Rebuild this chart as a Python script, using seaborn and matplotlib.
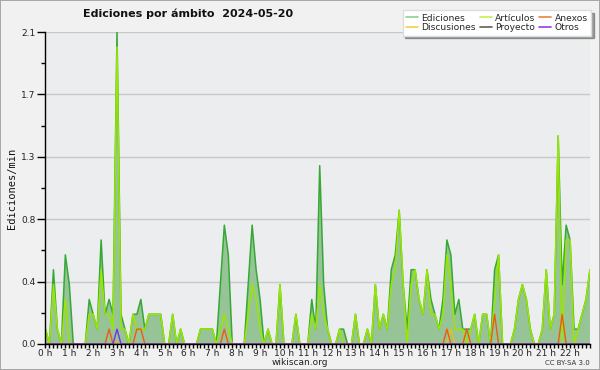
import numpy as np
import pandas as pd
import matplotlib
matplotlib.use("Agg")
import matplotlib.pyplot as plt
import seaborn as sns
import seaborn.objects as so
from matplotlib.lines import Line2D
from matplotlib.ticker import FixedLocator, MultipleLocator

# 10-minute samples, 00:00 .. 22:50 (one row per hour)
ediciones = [
    0.1, 0, 0.5, 0.1, 0, 0.6,
    0.4, 0, 0, 0, 0, 0.3,
    0.2, 0.1, 0.7, 0.2, 0.3, 0.2,
    2.1, 0.2, 0.1, 0, 0.2, 0.2,
    0.3, 0.1, 0.2, 0.2, 0.2, 0.2,
    0, 0, 0.2, 0, 0.1, 0,
    0, 0, 0, 0.1, 0.1, 0.1,
    0.1, 0, 0.4, 0.8, 0.6, 0,
    0, 0, 0, 0.4, 0.8, 0.5,
    0.3, 0, 0.1, 0, 0, 0.4,
    0, 0, 0, 0.2, 0, 0,
    0, 0.3, 0.1, 1.2, 0.4, 0.1,
    0, 0, 0.1, 0.1, 0, 0,
    0.2, 0, 0, 0.1, 0, 0.4,
    0.1, 0.2, 0.1, 0.5, 0.6, 0.9,
    0.4, 0.1, 0.5, 0.5, 0.3, 0.2,
    0.5, 0.3, 0.2, 0.1, 0.3, 0.7,
    0.6, 0.2, 0.3, 0.1, 0.1, 0.1,
    0.2, 0, 0.2, 0.2, 0, 0.5,
    0.6, 0, 0, 0, 0.1, 0.3,
    0.4, 0.3, 0.1, 0, 0, 0.1,
    0.5, 0.1, 0.2, 1.4, 0.4, 0.8,
    0.7, 0.1, 0.1, 0.2, 0.3, 0.5,
]
articulos = [
    0.1, 0, 0.4, 0.1, 0, 0.3,
    0, 0, 0, 0, 0, 0.2,
    0.2, 0.1, 0.5, 0.2, 0.2, 0.1,
    2.0, 0.1, 0.1, 0, 0.2, 0.1,
    0.1, 0.1, 0.2, 0.2, 0.2, 0.2,
    0, 0, 0.2, 0, 0.1, 0,
    0, 0, 0, 0.1, 0.1, 0.1,
    0.1, 0, 0.1, 0.2, 0.1, 0,
    0, 0, 0, 0.2, 0.4, 0.3,
    0.1, 0, 0.1, 0, 0, 0.4,
    0, 0, 0, 0.2, 0, 0,
    0, 0.2, 0.1, 0.4, 0.2, 0.1,
    0, 0, 0.1, 0, 0, 0,
    0.2, 0, 0, 0.1, 0, 0.4,
    0.1, 0.2, 0.1, 0.4, 0.5, 0.9,
    0.4, 0, 0.4, 0.5, 0.3, 0.2,
    0.5, 0.2, 0.2, 0.1, 0.2, 0.6,
    0.4, 0.1, 0.1, 0.1, 0, 0.1,
    0.2, 0, 0.2, 0.2, 0, 0.3,
    0.6, 0, 0, 0, 0.1, 0.3,
    0.4, 0.3, 0.1, 0, 0, 0.1,
    0.5, 0.1, 0.2, 1.4, 0, 0.7,
    0.7, 0, 0.1, 0.2, 0.3, 0.5,
]
anexos = [
    0, 0, 0, 0, 0, 0,
    0, 0, 0, 0, 0, 0,
    0, 0, 0, 0, 0.1, 0,
    0, 0, 0, 0, 0, 0.1,
    0.1, 0, 0, 0, 0, 0,
    0, 0, 0, 0, 0, 0,
    0, 0, 0, 0, 0, 0,
    0, 0, 0, 0.1, 0, 0,
    0, 0, 0, 0, 0, 0,
    0, 0, 0, 0, 0, 0,
    0, 0, 0, 0, 0, 0,
    0, 0, 0, 0, 0, 0,
    0, 0, 0, 0, 0, 0,
    0, 0, 0, 0, 0, 0,
    0, 0, 0, 0, 0, 0,
    0, 0, 0, 0, 0, 0,
    0, 0, 0, 0, 0, 0.1,
    0, 0, 0, 0, 0.1, 0,
    0, 0, 0, 0, 0, 0.2,
    0, 0, 0, 0, 0, 0,
    0, 0, 0, 0, 0, 0,
    0, 0, 0, 0, 0.2, 0,
    0, 0, 0, 0, 0, 0,
]
discusiones = [
    0, 0, 0, 0, 0, 0,
    0, 0, 0, 0, 0, 0,
    0, 0, 0, 0, 0, 0,
    0, 0, 0, 0, 0, 0,
    0, 0, 0, 0, 0, 0,
    0, 0, 0, 0, 0, 0,
    0, 0, 0, 0, 0, 0,
    0, 0, 0, 0, 0, 0,
    0, 0, 0, 0, 0, 0,
    0, 0, 0, 0, 0, 0,
    0, 0, 0, 0, 0, 0,
    0, 0, 0, 0, 0, 0,
    0, 0, 0, 0, 0, 0,
    0, 0, 0, 0, 0, 0,
    0, 0, 0, 0, 0, 0,
    0, 0, 0, 0, 0, 0,
    0, 0, 0, 0, 0, 0,
    0.1, 0, 0, 0, 0, 0,
    0, 0, 0, 0, 0, 0,
    0, 0, 0, 0, 0, 0,
    0, 0, 0, 0, 0, 0,
    0, 0, 0, 0, 0, 0,
    0, 0, 0, 0, 0, 0,
]
otros = [
    0, 0, 0, 0, 0, 0,
    0, 0, 0, 0, 0, 0,
    0, 0, 0, 0, 0, 0,
    0.1, 0, 0, 0, 0, 0,
    0, 0, 0, 0, 0, 0,
    0, 0, 0, 0, 0, 0,
    0, 0, 0, 0, 0, 0,
    0, 0, 0, 0, 0, 0,
    0, 0, 0, 0, 0, 0,
    0, 0, 0, 0, 0, 0,
    0, 0, 0, 0, 0, 0,
    0, 0, 0, 0, 0, 0,
    0, 0, 0, 0, 0, 0,
    0, 0, 0, 0, 0, 0,
    0, 0, 0, 0, 0, 0,
    0, 0, 0, 0, 0, 0,
    0, 0, 0, 0, 0, 0,
    0, 0, 0, 0, 0, 0,
    0, 0, 0, 0, 0, 0,
    0, 0, 0, 0, 0, 0,
    0, 0, 0, 0, 0, 0,
    0, 0, 0, 0, 0, 0,
    0, 0, 0, 0, 0, 0,
]
hour_labels = [f"{h} h" for h in range(23)]
y_ticks = [0.0, 0.42, 0.84, 1.26, 1.68, 2.1]
legend_labels = ["Ediciones", "Discusiones", "Artículos", "Proyecto", "Anexos", "Otros"]

n = len(ediciones)
hours = np.arange(n) / 6.0
df = pd.DataFrame({"t": hours, "ediciones": ediciones, "articulos": articulos,
                   "anexos": anexos, "discusiones": discusiones, "otros": otros})

sns.set_theme(style="white")
plt.rcParams["font.family"] = ["DejaVu Sans"]

fig = plt.figure(figsize=(6, 3.7), dpi=100, facecolor="#f1f1f1",
                 edgecolor="#a8a8a8", linewidth=1.2)
ax = fig.add_axes([0.0758, 0.0703, 0.9075, 0.8432])
ax.set_facecolor("#ecedef")

# filled area under total edits via seaborn.objects Area mark
(so.Plot(df, x="t", y="ediciones")
   .add(so.Area(color="#96c496", alpha=1, edgewidth=0))
   .on(ax)
   .plot())

sns.lineplot(data=df, x="t", y="ediciones", ax=ax, color="#35a835", lw=1.1, legend=False)
sns.lineplot(data=df, x="t", y="articulos", ax=ax, color="#99e600", lw=1.1, legend=False)
sns.lineplot(data=df, x="t", y="discusiones", ax=ax, color="#e8c020", lw=1.0, legend=False)
sns.lineplot(data=df, x="t", y="anexos", ax=ax, color="#ee5a10", lw=1.0, legend=False)
sns.lineplot(data=df, x="t", y="otros", ax=ax, color="#7a2ee8", lw=1.0, legend=False)
for i, ln in enumerate(ax.get_lines()):
    ln.set_zorder(3 + i)
for c in ax.collections:
    c.set_zorder(2)
    c.set_facecolor("#96c496")
    c.set_edgecolor("none")
    c.set_alpha(1)

ax.set_xlim(0, hours[-1])
ax.set_ylim(0, 2.1)
ax.set_xlabel("")
ax.set_ylabel("")

ax.xaxis.set_major_locator(FixedLocator(range(23)))
ax.set_xticklabels(hour_labels)
ax.xaxis.set_minor_locator(MultipleLocator(1 / 6))
ax.yaxis.set_major_locator(FixedLocator(y_ticks))
ax.set_yticklabels([f"{v:.1f}" for v in y_ticks])
ax.yaxis.set_minor_locator(FixedLocator([0.21, 0.63, 1.05, 1.47, 1.89]))

ax.tick_params(axis="x", which="both", direction="out", length=3, width=1,
               color="black", labelsize=6.5, pad=0.5, bottom=True)
ax.tick_params(axis="y", which="major", direction="out", length=6, width=1,
               color="black", labelsize=6.5, pad=1, left=True)
ax.tick_params(axis="y", which="minor", direction="out", length=3, width=1,
               color="black", left=True)
for lbl in ax.get_xticklabels() + ax.get_yticklabels():
    lbl.set_color("#222222")

ax.grid(axis="y", which="major", color="#c8c8c8", lw=1)
ax.grid(axis="x", visible=False)
for gl in ax.get_ygridlines():
    gl.set_zorder(1)
for s in ["top", "right"]:
    ax.spines[s].set_visible(False)
for s in ["left", "bottom"]:
    ax.spines[s].set_visible(True)
    ax.spines[s].set_color("black")
    ax.spines[s].set_linewidth(1)
    ax.spines[s].set_zorder(9)
ax.set_facecolor("#ecedef")

fig.text(0.314, 0.962, "Ediciones por ámbito  2024-05-20", ha="center", va="center",
         fontsize=8, fontweight="bold", color="#111111")
fig.text(0.02, 0.49, "Ediciones/min", rotation=90, ha="center", va="center",
         fontsize=7.5, family=["DejaVu Sans Mono"], color="#111111")
fig.text(0.5, 0.019, "wikiscan.org", ha="center", va="center", fontsize=6.5, color="#222222")
fig.text(0.983, 0.019, "CC BY-SA 3.0", ha="right", va="center", fontsize=5, color="#333333")

leg_colors = ["#8fd08f", "#f5d040", "#c8f050", "#606060", "#f08040", "#9040e8"]
handles = [Line2D([0], [0], color=c, lw=1.2) for c in leg_colors]
leg = fig.legend(handles, legend_labels, ncol=3, loc="upper right",
                 bbox_to_anchor=(0.985, 0.972), fontsize=6.6, frameon=True,
                 fancybox=False, shadow=True, framealpha=1, edgecolor="#dddddd",
                 handlelength=1.3, handletextpad=0.4, columnspacing=0.4,
                 labelspacing=0.1, borderpad=0.35, borderaxespad=0)
leg.get_frame().set_facecolor("white")
leg.set_zorder(10)

fig.savefig("out.png", dpi=100, facecolor=fig.get_facecolor(), edgecolor=fig.get_edgecolor())
